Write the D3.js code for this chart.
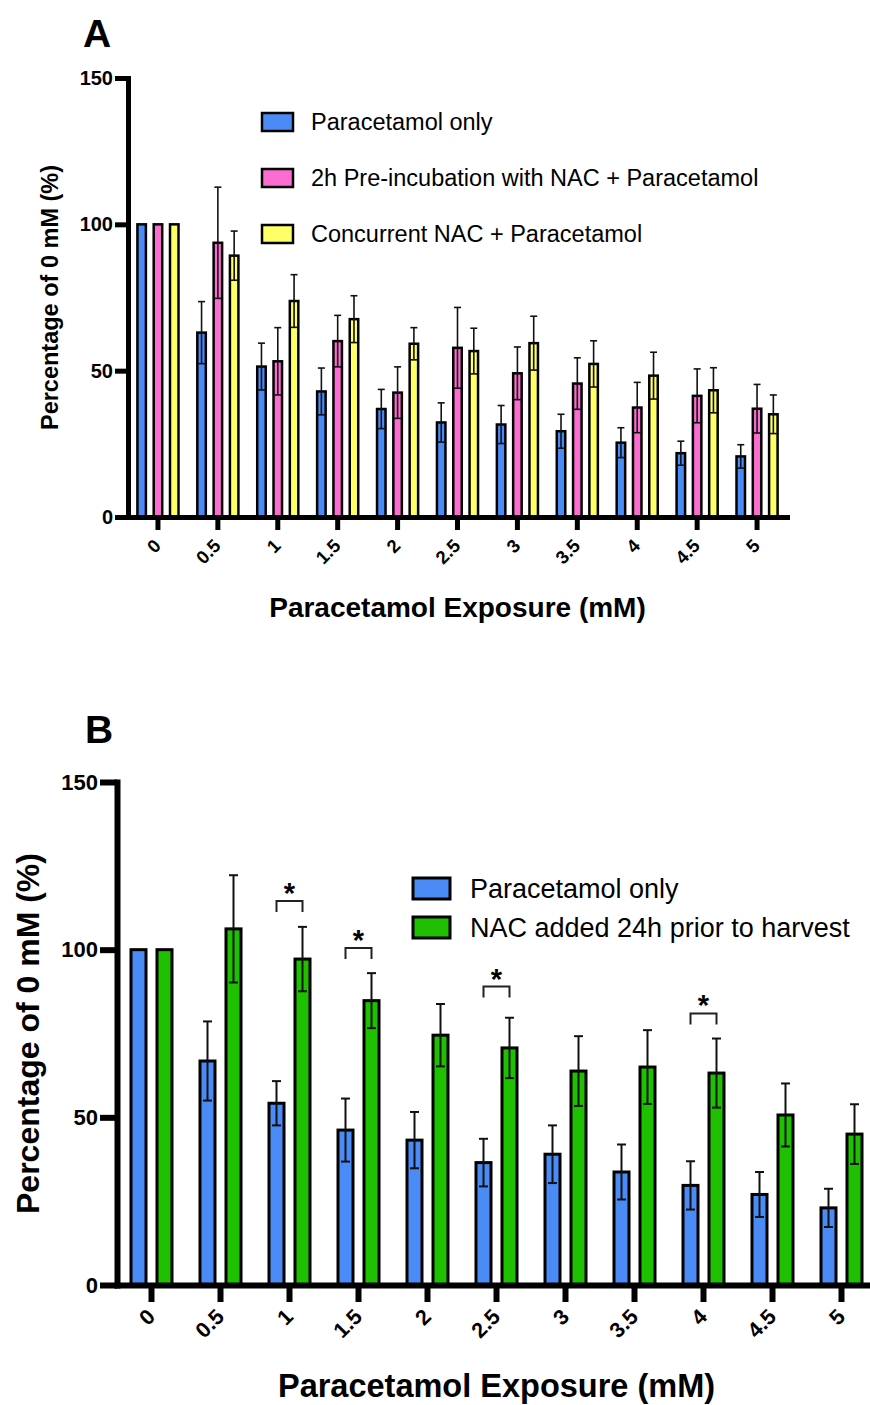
<!DOCTYPE html>
<html>
<head>
<meta charset="utf-8">
<script src="https://cdn.jsdelivr.net/npm/d3@7"></script>
<style>
	body { margin: 0; background: #fff; }
	svg text { font-family: 'Liberation Sans', Arial, sans-serif; fill: #000; }
</style>
</head>
<body>
<svg id="chart" width="870" height="1405"></svg>
<script>
// Categories (paracetamol dose, mM)
const doses = ['0', '0.5', '1', '1.5', '2', '2.5', '3', '3.5', '4', '4.5', '5'];
const yTicks = [0, 50, 100, 150];

// Panel A: means and SEM (% of 0 mM)
const paraOnlyA = [100, 63, 51.4, 42.9, 36.9, 32.3, 31.6, 29.3, 25.4, 21.8, 20.7];
const paraOnlyASem = [0, 10.6, 8, 8, 6.7, 6.7, 6.5, 5.8, 5.1, 4.1, 4];
const preNacA = [100, 93.7, 53.2, 60.1, 42.5, 57.8, 49.1, 45.6, 37.4, 41.4, 37];
const preNacASem = [0, 19, 11.5, 8.8, 8.8, 13.8, 9, 8.8, 8.6, 9.2, 8.3];
const concNacA = [100, 89.3, 73.8, 67.6, 59.2, 56.7, 59.4, 52.3, 48.3, 43.3, 35.1];
const concNacASem = [0, 8.4, 9, 8, 5.5, 7.8, 9.2, 7.9, 8, 7.7, 6.6];

// Panel B: means and SEM (% of 0 mM)
const paraOnlyB = [100, 66.8, 54.2, 46.2, 43.2, 36.5, 39, 33.7, 29.7, 27, 23];
const paraOnlyBSem = [0, 11.8, 6.6, 9.4, 8.4, 7.1, 8.6, 8.2, 7.2, 6.7, 5.7];
const nacHarvestB = [100, 106.2, 97.2, 84.8, 74.5, 70.7, 63.8, 65, 63.2, 50.7, 45];
const nacHarvestBSem = [0, 16, 9.6, 8.2, 9.3, 9, 10.4, 11, 10.3, 9.4, 8.9];

// Significance brackets in panel B
const sigDoses = ['1', '1.5', '2.5', '4'];
const sigLevels = [114.5, 100.5, 89, 81];

const svg = d3.select('#chart');
svg.append('rect').attr('width', 870).attr('height', 1405).attr('fill', '#fff');

const drawPanel = function(p) {
	const g = svg.append('g');
	const names = p.series.map(s => s.name);

	const x0 = d3.scaleBand().domain(doses).range([p.left, p.right]);
	const half = p.pitch * names.length / 2;
	const x1 = d3.scaleBand()
		.domain(names)
		.range([x0.bandwidth() / 2 - half, x0.bandwidth() / 2 + half])
		.paddingInner(1 - p.barW / p.pitch)
		.paddingOuter((1 - p.barW / p.pitch) / 2);
	const y = d3.scaleLinear().domain([0, 150]).range([p.bottom, p.top]);

	// Bars
	for (const s of p.series) {
		const rows = doses.map((d, i) => ({ dose: d, v: s.values[i], sem: s.sem[i] }));

		g.append('g').selectAll('rect')
			.data(rows)
		.join('rect')
			.attr('x', d => x0(d.dose) + x1(s.name))
			.attr('y', d => y(d.v))
			.attr('width', x1.bandwidth())
			.attr('height', d => y(0) - y(d.v))
			.attr('fill', s.color)
			.attr('stroke', '#000')
			.attr('stroke-width', p.barStroke);

		// Error bars (none where SEM is zero)
		const eb = g.append('g').selectAll('g')
			.data(rows.filter(d => d.sem > 0))
		.join('g')
			.attr('transform', d => 'translate(' + (x0(d.dose) + x1(s.name) + x1.bandwidth() / 2) + ',0)')
			.attr('stroke', '#111')
			.attr('stroke-width', p.errStroke);
		eb.append('line').attr('y1', d => y(d.v - d.sem)).attr('y2', d => y(d.v + d.sem));
		eb.append('line').attr('x1', -p.cap / 2).attr('x2', p.cap / 2).attr('y1', d => y(d.v + d.sem)).attr('y2', d => y(d.v + d.sem));
		eb.append('line').attr('x1', -p.cap / 2).attr('x2', p.cap / 2).attr('y1', d => y(d.v - d.sem)).attr('y2', d => y(d.v - d.sem));
	}

	// Axes
	const yAxis = g.append('g')
		.attr('transform', 'translate(' + p.left + ',0)')
		.call(d3.axisLeft(y).tickValues(yTicks).tickSize(p.tickLen).tickSizeOuter(0).tickPadding(2));
	const xAxis = g.append('g')
		.attr('transform', 'translate(0,' + p.bottom + ')')
		.call(d3.axisBottom(x0).tickSize(p.tickLen).tickSizeOuter(0));

	for (const ax of [yAxis, xAxis]) {
		ax.select('.domain').attr('stroke', '#000').attr('stroke-width', p.axisW).attr('stroke-linecap', 'square');
		ax.selectAll('.tick line').attr('stroke', '#000').attr('stroke-width', p.axisW);
	}
	yAxis.selectAll('.tick text')
		.attr('font-size', p.tickFont).attr('font-weight', 'bold').attr('fill', '#222');
	xAxis.selectAll('.tick text')
		.attr('font-size', p.xTickFont).attr('font-weight', 'bold').attr('fill', '#222')
		.attr('x', null).attr('y', null).attr('dy', null)
		.attr('text-anchor', 'end')
		.attr('transform', 'translate(' + p.xLabDx + ',' + p.xLabDy + ') rotate(-45)');

	// Axis titles and panel letter
	g.append('text')
		.attr('x', (p.left + p.right) / 2).attr('y', p.xTitleY)
		.attr('text-anchor', 'middle').attr('font-weight', 'bold').attr('font-size', p.titleFont)
		.text('Paracetamol Exposure (mM)');
	g.append('text')
		.attr('transform', 'translate(' + p.yTitleX + ',' + (p.top + p.bottom) / 2 + ') rotate(-90)')
		.attr('text-anchor', 'middle').attr('font-weight', 'bold').attr('font-size', p.yTitleFont)
		.text('Percentage of 0 mM (%)');
	g.append('text')
		.attr('x', p.letterX).attr('y', p.letterY)
		.attr('font-weight', 'bold').attr('font-size', 39)
		.text(p.letter);

	// Legend
	const leg = g.append('g').selectAll('g')
		.data(p.series)
	.join('g')
		.attr('transform', (d, i) => 'translate(' + p.legX + ',' + (p.legY + i * p.legStep) + ')');
	leg.append('rect')
		.attr('width', p.legW).attr('height', p.legH)
		.attr('fill', d => d.color).attr('stroke', '#000').attr('stroke-width', p.barStroke);
	leg.append('text')
		.attr('x', p.legTextDx).attr('y', p.legH - 1)
		.attr('font-size', p.legFont)
		.text(d => d.name);

	return { g, x0, x1, y };
};

// Panel A
drawPanel({
	letter: 'A', letterX: 83, letterY: 47,
	left: 128, right: 787, top: 78, bottom: 517,
	pitch: 16.3, barW: 8.5, barStroke: 2.5, errStroke: 1.6, cap: 7,
	axisW: 5, tickLen: 13, tickFont: 20, xTickFont: 18.5, xLabDx: 4, xLabDy: 30,
	titleFont: 28, xTitleY: 617, yTitleFont: 23.5, yTitleX: 58,
	legX: 262, legY: 113, legStep: 56, legW: 31, legH: 18, legTextDx: 49, legFont: 23.5,
	series: [
		{ name: 'Paracetamol only', color: '#4a8bf6', values: paraOnlyA, sem: paraOnlyASem },
		{ name: '2h Pre-incubation with NAC + Paracetamol', color: '#fb6dd0', values: preNacA, sem: preNacASem },
		{ name: 'Concurrent NAC + Paracetamol', color: '#ffff66', values: concNacA, sem: concNacASem }
	]
});

// Panel B
const panelB = drawPanel({
	letter: 'B', letterX: 85, letterY: 743,
	left: 117, right: 876, top: 782, bottom: 1285,
	pitch: 26, barW: 15, barStroke: 3, errStroke: 2, cap: 9,
	axisW: 6, tickLen: 17, tickFont: 22, xTickFont: 21.5, xLabDx: 5, xLabDy: 33,
	titleFont: 32.5, xTitleY: 1397, yTitleFont: 32, yTitleX: 39,
	legX: 413, legY: 878, legStep: 39, legW: 37, legH: 21, legTextDx: 57, legFont: 27,
	series: [
		{ name: 'Paracetamol only', color: '#4a8bf6', values: paraOnlyB, sem: paraOnlyBSem },
		{ name: 'NAC added 24h prior to harvest', color: '#1ec000', values: nacHarvestB, sem: nacHarvestBSem }
	]
});

// Significance brackets
const sig = panelB.g.append('g').selectAll('g')
	.data(sigDoses.map((d, i) => ({ dose: d, level: sigLevels[i] })))
.join('g')
	.attr('transform', d => 'translate(' + panelB.x0(d.dose) + ',' + panelB.y(d.level) + ')');
const bx1 = panelB.x1('Paracetamol only') + panelB.x1.bandwidth() / 2;
const bx2 = panelB.x1('NAC added 24h prior to harvest') + panelB.x1.bandwidth() / 2;
sig.append('path')
	.attr('d', 'M' + bx1 + ',11V0H' + bx2 + 'V11')
	.attr('fill', 'none').attr('stroke', '#222').attr('stroke-width', 2);
sig.append('text')
	.attr('x', (bx1 + bx2) / 2).attr('y', 2)
	.attr('text-anchor', 'middle').attr('font-size', 29).attr('font-weight', 'bold')
	.text('*');
</script>
</body>
</html>
